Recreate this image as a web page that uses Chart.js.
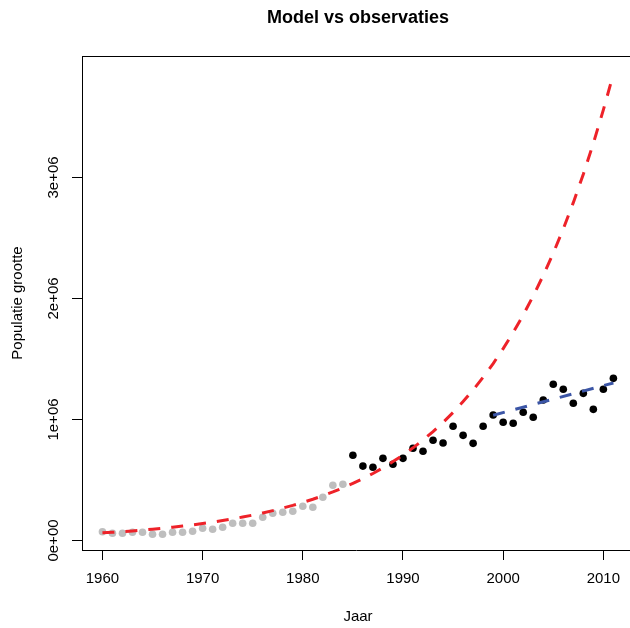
<!DOCTYPE html>
<html>
<head>
<meta charset="utf-8">
<script src="https://cdn.jsdelivr.net/npm/chart.js@4.4.1/dist/chart.umd.min.js"></script>
<style>
  html, body { margin: 0; padding: 0; background: #fff; }
  canvas { display: block; }
</style>
</head>
<body>
<canvas id="myChart" width="630" height="628"></canvas>
<script>
// early observations (grey)
const oldYears = [1960, 1961, 1962, 1963, 1964, 1965, 1966, 1967, 1968, 1969,
  1970, 1971, 1972, 1973, 1974, 1975, 1976, 1977, 1978, 1979,
  1980, 1981, 1982, 1983, 1984];
const oldCounts = [72700, 59500, 59500, 67800, 67800, 51200, 51200, 67800, 67800, 76000,
  100800, 92600, 109000, 142000, 142000, 142000, 191700, 224800, 233000, 241300,
  282600, 274400, 357000, 456000, 464500];

// later observations (black)
const newYears = [1985, 1986, 1987, 1988, 1989, 1990, 1991, 1992, 1993, 1994,
  1995, 1996, 1997, 1998, 1999, 2000, 2001, 2002, 2003, 2004,
  2005, 2006, 2007, 2008, 2009, 2010, 2011];
const newCounts = [704000, 615000, 605000, 679000, 630000, 679000, 762000, 737000, 828000, 806000,
  944000, 869000, 803000, 944000, 1037000, 977000, 969000, 1060000, 1018000, 1161000,
  1291000, 1250000, 1134000, 1216000, 1084000, 1250000, 1340000];

// model curve (red, dashed)
const modelYears = [1960, 1961, 1962, 1963, 1964, 1965, 1966, 1967, 1968, 1969,
  1970, 1971, 1972, 1973, 1974, 1975, 1976, 1977, 1978, 1979,
  1980, 1981, 1982, 1983, 1984, 1985, 1986, 1987, 1988, 1989,
  1990, 1991, 1992, 1993, 1994, 1995, 1996, 1997, 1998, 1999,
  2000, 2001, 2002, 2003, 2004, 2005, 2006, 2007, 2008, 2009,
  2010, 2011];
const modelCounts = [64000, 68000, 73500, 79500, 86500, 93500, 101500, 110000, 119000, 129000,
  140000, 152000, 165000, 179000, 194000, 210000, 228000, 247000, 268000, 290000,
  315000, 341000, 370000, 401000, 435000, 472000, 511000, 554000, 601000, 652000,
  706000, 766000, 830000, 900000, 976000, 1058000, 1148000, 1244000, 1349000, 1462000,
  1586000, 1719000, 1864000, 2021000, 2191000, 2375000, 2575000, 2792000, 3027000, 3282000,
  3559000, 3855000];

// recent trend (blue, dashed)
const trendYears = [1999, 2011];
const trendCounts = [1035000, 1302000];

const xTicks = [1960, 1970, 1980, 1990, 2000, 2010];
const yTicks = [0, 1000000, 2000000, 3000000];
const yTickLabels = ['0e+00', '1e+06', '2e+06', '3e+06'];

const FONT = "'Liberation Sans', Arial, Helvetica, sans-serif";

const toPoints = (xs, ys) => xs.map((x, i) => ({ x: x, y: ys[i] }));

// title, axis titles, rotated y labels and top frame line
const textPlugin = {
  id: 'rText',
  afterDraw(chart) {
    const ctx = chart.ctx;
    const area = chart.chartArea;
    const yScale = chart.scales.y;
    ctx.save();
    ctx.strokeStyle = '#000';
    ctx.lineWidth = 1;
    ctx.beginPath();
    ctx.moveTo(area.left, area.top + 0.5);
    ctx.lineTo(chart.width, area.top + 0.5);
    ctx.stroke();

    ctx.fillStyle = '#000';
    ctx.textAlign = 'center';
    ctx.textBaseline = 'middle';
    ctx.font = 'bold 18px ' + FONT;
    ctx.fillText('Model vs observaties', 358, 18);

    ctx.font = '15px ' + FONT;
    ctx.fillText('Jaar', 358, 617);

    yTicks.forEach((v, i) => {
      ctx.save();
      ctx.translate(54, yScale.getPixelForValue(v));
      ctx.rotate(-Math.PI / 2);
      ctx.fillText(yTickLabels[i], 0, 0);
      ctx.restore();
    });

    ctx.translate(18, (area.top + area.bottom) / 2);
    ctx.rotate(-Math.PI / 2);
    ctx.fillText('Populatie grootte', 0, 0);
    ctx.restore();
  }
};

const ctx = document.getElementById('myChart').getContext('2d');
const chart = new Chart(ctx, {
  type: 'scatter',
  data: {
    datasets: [
      {
        label: 'trend',
        data: toPoints(trendYears, trendCounts),
        showLine: true,
        borderColor: '#3b55a6',
        borderWidth: 3,
        borderDash: [12, 11],
        pointRadius: 0,
        fill: false
      },
      {
        label: 'model',
        data: toPoints(modelYears, modelCounts),
        showLine: true,
        borderColor: '#ee2229',
        borderWidth: 3,
        borderDash: [12, 11],
        pointRadius: 0,
        fill: false
      },
      {
        label: 'nieuw',
        data: toPoints(newYears, newCounts),
        backgroundColor: '#000',
        borderWidth: 0,
        pointRadius: 3.8
      },
      {
        label: 'oud',
        data: toPoints(oldYears, oldCounts),
        backgroundColor: '#bebebe',
        borderWidth: 0,
        pointRadius: 3.8
      }
    ]
  },
  options: {
    responsive: false,
    animation: false,
    devicePixelRatio: 1,
    layout: { autoPadding: false, padding: { top: 56, right: 0, left: 0, bottom: 0 } },
    plugins: {
      legend: { display: false },
      tooltip: { enabled: false },
      title: { display: false }
    },
    scales: {
      x: {
        type: 'linear',
        min: 1957.96,
        max: 2012.66,
        afterFit: (scale) => {
          scale.height = 78;
          scale.paddingLeft = 0;
          scale.paddingRight = 0;
        },
        afterBuildTicks: (scale) => { scale.ticks = xTicks.map(v => ({ value: v })); },
        grid: {
          drawOnChartArea: false,
          drawTicks: true,
          tickLength: 10,
          tickColor: '#000',
          tickWidth: 1
        },
        border: { display: true, color: '#000', width: 1 },
        ticks: {
          color: '#000',
          font: { family: FONT, size: 15 },
          padding: 10,
          maxRotation: 0,
          autoSkip: false,
          callback: (value) => String(value)
        }
      },
      y: {
        type: 'linear',
        min: -78500,
        max: 4004000,
        afterFit: (scale) => {
          scale.width = 82;
          scale.paddingTop = 0;
          scale.paddingBottom = 0;
        },
        afterBuildTicks: (scale) => { scale.ticks = yTicks.map(v => ({ value: v })); },
        grid: {
          drawOnChartArea: false,
          drawTicks: true,
          tickLength: 10,
          tickColor: '#000',
          tickWidth: 1
        },
        border: { display: true, color: '#000', width: 1 },
        ticks: { display: false }
      }
    }
  },
  plugins: [textPlugin]
});
</script>
</body>
</html>
